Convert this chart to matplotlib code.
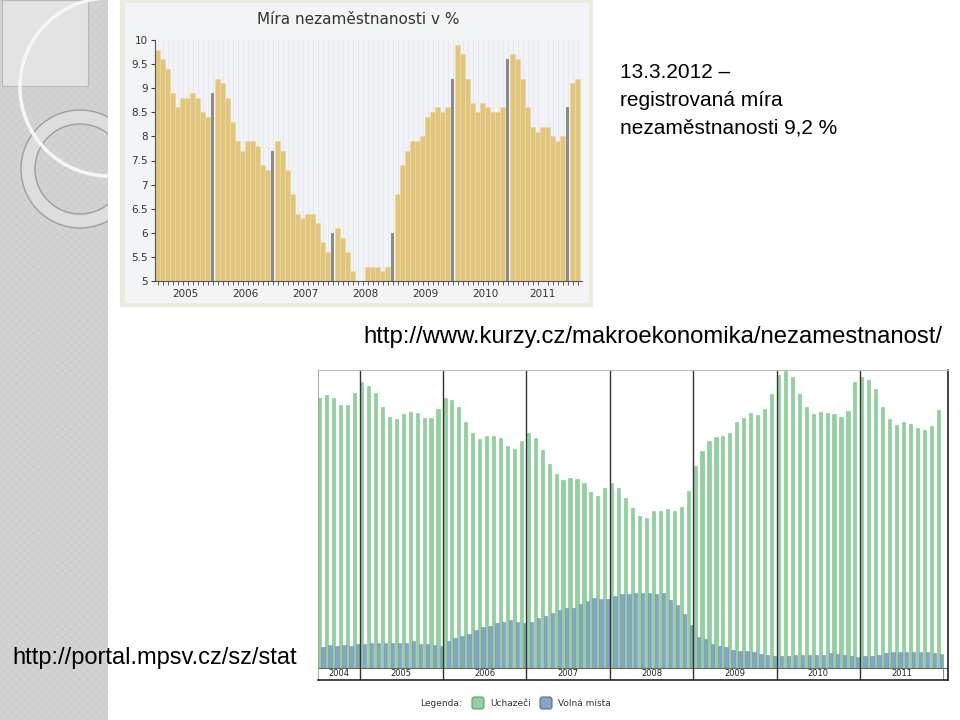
import matplotlib.pyplot as plt
import numpy as np
from matplotlib.patches import Rectangle, Circle, Wedge, FancyBboxPatch

# ---------------------------------------------------------------------------
# data
# ---------------------------------------------------------------------------
# registered unemployment rate in % (kurzy.cz), monthly; last value of a year = December
rate_2005 = [9.8, 9.6, 9.4, 8.9, 8.6, 8.8, 8.8, 8.9, 8.8, 8.5, 8.4, 8.9]
rate_2006 = [9.2, 9.1, 8.8, 8.3, 7.9, 7.7, 7.9, 7.9, 7.8, 7.4, 7.3, 7.7]
rate_2007 = [7.9, 7.7, 7.3, 6.8, 6.4, 6.3, 6.4, 6.4, 6.2, 5.8, 5.6, 6.0]
rate_2008 = [6.1, 5.9, 5.6, 5.2, 5.0, 4.9, 5.3, 5.3, 5.3, 5.2, 5.3, 6.0]
rate_2009 = [6.8, 7.4, 7.7, 7.9, 7.9, 8.0, 8.4, 8.5, 8.6, 8.5, 8.6, 9.2]
rate_2010 = [9.9, 9.7, 9.2, 8.7, 8.5, 8.7, 8.6, 8.5, 8.5, 8.6, 9.6]
rate_2011 = [9.7, 9.6, 9.2, 8.6, 8.2, 8.1, 8.2, 8.2, 8.0, 7.9, 8.0, 8.6]
rate_2012 = [9.1, 9.2]
rate_years = ['2005', '2006', '2007', '2008', '2009', '2010', '2011']
rate_year_pos = [5.5, 17.5, 29.5, 41.5, 53.5, 65.5, 77.0]

# job seekers (Uchazeči) and vacancies (Volná místa), thousands, Jul 2004 - Dec 2011
uch_2004 = [529, 536, 529, 516, 516, 540]
uch_2005 = [561, 554, 539, 512, 493, 488, 498, 502, 501, 490, 490, 508]
uch_2006 = [529, 526, 513, 483, 461, 449, 455, 455, 452, 436, 430, 445]
uch_2007 = [462, 452, 428, 400, 381, 369, 373, 370, 362, 345, 338, 353]
uch_2008 = [362, 353, 333, 313, 299, 294, 307, 308, 311, 308, 316, 348]
uch_2009 = [396, 426, 446, 454, 455, 461, 482, 491, 500, 497, 508, 538]
uch_2010 = [575, 583, 572, 538, 513, 498, 502, 500, 498, 493, 505, 561]
uch_2011 = [571, 565, 547, 512, 488, 476, 482, 479, 472, 467, 474, 506]

vol_2004 = [41, 45, 43, 45, 43, 46]
vol_2005 = [47, 49, 49, 49, 49, 49, 49, 52, 47, 47, 45, 43]
vol_2006 = [52, 59, 62, 66, 74, 79, 81, 87, 90, 94, 90, 87]
vol_2007 = [90, 97, 102, 107, 113, 117, 118, 126, 131, 136, 134, 134]
vol_2008 = [141, 145, 145, 146, 146, 146, 145, 146, 133, 123, 105, 84]
vol_2009 = [60, 56, 47, 43, 40, 35, 33, 33, 30, 26, 25, 23]
vol_2010 = [23, 23, 24, 25, 25, 25, 25, 28, 27, 25, 23, 21]
vol_2011 = [22, 22, 25, 28, 30, 30, 30, 30, 31, 30, 28, 27]
mpsv_years = ['2004', '2005', '2006', '2007', '2008', '2009', '2010', '2011']

# ---------------------------------------------------------------------------
W, H = 960, 720
fig = plt.figure(figsize=(9.6, 7.2), dpi=100)
plt.rcParams['hatch.linewidth'] = 0.3


def px_axes(x0, y0, x1, y1):
    # axes placed in pixel coordinates of the slide (origin top-left)
    return fig.add_axes([x0 / W, 1 - y1 / H, (x1 - x0) / W, (y1 - y0) / H])


# slide background and decorations
bg = px_axes(0, 0, W, H)
bg.set_xlim(0, W)
bg.set_ylim(H, 0)
bg.axis('off')

strip = Rectangle((0, 0), 108, H, facecolor='#d3d3d3', edgecolor='#c6c6c6', lw=0, hatch='xxxx')
bg.add_patch(strip)
bg.add_patch(Rectangle((2, 0), 86, 86, facecolor='#e3e3e3', edgecolor='#b8b8b8', lw=0.8))
ring = Wedge((80, 169), 59, 0, 360, width=14, facecolor='#dddddd', edgecolor='#9e9e9e', lw=1)
bg.add_patch(ring)
ring.set_clip_path(strip)
arc = Circle((109, 87), 89, fill=False, edgecolor='#f6f6f6', lw=2.5)
bg.add_patch(arc)
arc.set_clip_path(strip)

# top chart panel
bg.add_patch(Rectangle((120, 0), 473, 307, facecolor='#ebeadb', edgecolor='none'))
bg.add_patch(Rectangle((125, 3), 464, 300, facecolor='#f3f4f6', edgecolor='none'))
bg.text(358, 19, 'Míra nezaměstnanosti v %', ha='center', va='center', fontsize=11, color='#333333')

# slide texts
sans = 'Liberation Sans'
bg.text(620, 73, '13.3.2012 –', fontsize=15, family=sans, va='center')
bg.text(620, 100, 'registrovaná míra', fontsize=15, family=sans, va='center')
bg.text(620, 128, 'nezaměstnanosti 9,2 %', fontsize=15, family=sans, va='center')
bg.text(363, 337, 'http://www.kurzy.cz/makroekonomika/nezamestnanost/', fontsize=17.2, family=sans, va='center')
bg.text(12, 658, 'http://portal.mpsv.cz/sz/stat', fontsize=17, family=sans, va='center')

# legend of the lower chart
bg.text(420, 703, 'Legenda:', fontsize=6.5, va='center', color='#333333')
bg.add_patch(FancyBboxPatch((472, 697), 12, 12, boxstyle='round,pad=0,rounding_size=2.5',
                            facecolor='#93d0a0', edgecolor='#5f9e6e', lw=0.8))
bg.text(490, 703, 'Uchazeči', fontsize=6.5, va='center', color='#333333')
bg.add_patch(FancyBboxPatch((540, 697), 12, 12, boxstyle='round,pad=0,rounding_size=2.5',
                            facecolor='#87a4c4', edgecolor='#566f8e', lw=0.8))
bg.text(558, 703, 'Volná místa', fontsize=6.5, va='center', color='#333333')

# ---------------------------------------------------------------------------
# unemployment rate chart
# ---------------------------------------------------------------------------
rate_blocks = [rate_2005, rate_2006, rate_2007, rate_2008, rate_2009, rate_2010, rate_2011]
rates = np.array(sum(rate_blocks, []) + rate_2012)
dec_idx = np.cumsum([len(b) for b in rate_blocks]) - 1
x = np.arange(len(rates))
is_dec = np.isin(x, dec_idx)

ax1 = px_axes(155, 40, 582, 281)
ax1.set_facecolor('#f2f3f7')
ax1.bar(x[~is_dec], rates[~is_dec], width=1.0, color='#e2c57d', edgecolor='#ecd8a2', linewidth=0.6)
ax1.bar(x[is_dec], rates[is_dec], width=0.75, color='#8b8b8b')
ax1.set_ylim(5, 10)
ax1.set_xlim(-0.5, 84.9)
ax1.set_yticks(np.arange(5, 10.01, 0.5))
ax1.set_yticklabels(['%g' % v for v in np.arange(5, 10.01, 0.5)], fontsize=7.5, color='#333333')
ax1.set_xticks(rate_year_pos)
ax1.set_xticklabels(rate_years, fontsize=7.5, color='#333333')
ax1.set_xticks(x, minor=True)
ax1.tick_params(axis='x', which='major', length=0, pad=6)
ax1.tick_params(axis='x', which='minor', length=3, color='#444444')
ax1.tick_params(axis='y', length=3, color='#444444', pad=2)
ax1.grid(axis='x', which='minor', color='#e2e4ea', lw=0.5)
ax1.set_axisbelow(True)
for side in ['top', 'right']:
    ax1.spines[side].set_visible(False)
for side in ['left', 'bottom']:
    ax1.spines[side].set_color('#555555')

# ---------------------------------------------------------------------------
# job seekers / vacancies chart
# ---------------------------------------------------------------------------
uch = sum([uch_2004, uch_2005, uch_2006, uch_2007, uch_2008, uch_2009, uch_2010, uch_2011], [])
vol = sum([vol_2004, vol_2005, vol_2006, vol_2007, vol_2008, vol_2009, vol_2010, vol_2011], [])
m = np.arange(len(uch))
year_edges = [0, 6, 18, 30, 42, 54, 66, 78, 90]

ax2 = px_axes(318, 370, 948, 680)
ax2.bar(m + 0.04, uch, width=0.46, align='edge', color='#93d0a0', edgecolor='#80c18f', lw=0.4)
ax2.bar(m + 0.5, vol, width=0.48, align='edge', color='#87a4c4', edgecolor='#7390b2', lw=0.4)
ax2.set_xlim(0, 90.67)
ax2.set_ylim(-24.2, 585)
ax2.axhline(0, color='#666666', lw=0.8)
for k in year_edges[1:-1]:
    ax2.axvline(k, color='#333333', lw=1.0)
ax2.axvline(90, ymax=0.04, color='#777777', lw=0.6)
for i, yr in enumerate(mpsv_years):
    ax2.text((year_edges[i] + year_edges[i + 1]) / 2, -12, yr, ha='center', va='center',
             fontsize=6, color='#222222')
ax2.set_xticks([])
ax2.set_yticks([])
ax2.spines['top'].set_color('#bbbbbb')
ax2.spines['left'].set_color('#999999')
ax2.spines['left'].set_linewidth(0.6)
ax2.spines['right'].set_color('#222222')
ax2.spines['right'].set_linewidth(1.2)
ax2.spines['bottom'].set_color('#222222')
ax2.spines['bottom'].set_linewidth(1.2)

plt.savefig('out.png', dpi=100)
